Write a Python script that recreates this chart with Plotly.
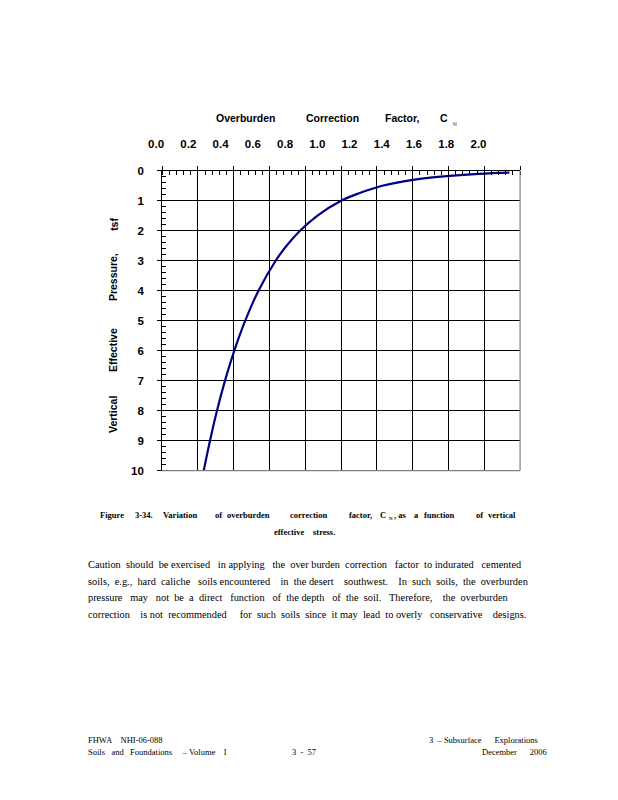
import plotly.graph_objects as go

# ---- data ----
stress_tsf = [0.06, 0.1, 0.2, 0.3, 0.5, 0.75, 1.0, 1.5, 2.0, 2.5, 3.0, 4.0, 5.0, 6.0, 7.0, 8.0, 9.0, 10.0]
cn_values = [1.94, 1.77, 1.54, 1.40, 1.23, 1.10, 1.00, 0.866, 0.77, 0.695, 0.634, 0.538, 0.464, 0.403, 0.351, 0.306, 0.267, 0.232]
x_tick_labels = ["0.0", "0.2", "0.4", "0.6", "0.8", "1.0", "1.2", "1.4", "1.6", "1.8", "2.0"]
x_tick_values = [0.0, 0.2, 0.4, 0.6, 0.8, 1.0, 1.2, 1.4, 1.6, 1.8, 2.0]
y_tick_values = list(range(0, 11))

W, H = 618, 800
def px(x):
    return x / W
def py(y):
    return 1 - y / H

SANS = "Liberation Sans, Arial, sans-serif"
SERIF = "Liberation Serif, Times New Roman, serif"

L, R, T, B = 158.3, 525.7, 167.3, 471.7

fig = go.Figure()
fig.add_trace(go.Scatter(x=cn_values, y=stress_tsf, mode="lines",
                         line=dict(color="#000080", width=2.2, shape="spline"),
                         showlegend=False, hoverinfo="skip"))
# invisible helper trace so the label axis (x2) is drawn
fig.add_trace(go.Scatter(x=x_tick_values, y=[0] * len(x_tick_values), xaxis="x2", yaxis="y2",
                         mode="markers", marker=dict(opacity=0), showlegend=False, hoverinfo="skip"))

fig.update_layout(
    width=W, height=H, margin=dict(l=0, r=0, t=0, b=0),
    paper_bgcolor="white", plot_bgcolor="rgba(0,0,0,0)",
    showlegend=False,
    xaxis=dict(domain=[px(L), px(R)], range=[0, 2.0], side="top",
               tickmode="array", tickvals=x_tick_values, showticklabels=False,
               ticks="outside", ticklen=4, tickcolor="black", tickwidth=1,
               showgrid=True, gridcolor="black", gridwidth=1,
               showline=True, linecolor="black", linewidth=1, mirror=False,
               zeroline=False,
               minor=dict(dtick=0.04, ticks="inside", ticklen=4, tickcolor="black", showgrid=False)),
    xaxis2=dict(domain=[px(152), px(483)], range=[0, 2.0], anchor="free", position=py(T),
                side="top",
                tickmode="array", tickvals=x_tick_values, ticktext=["<b>%s</b>" % t for t in x_tick_labels],
                tickfont=dict(family=SANS, size=11.5, color="black"),
                ticks="", ticklabelstandoff=20, showgrid=False, showline=False, zeroline=False),
    yaxis=dict(domain=[py(B), py(T)], range=[10, 0],
               tickmode="array", tickvals=y_tick_values,
               ticktext=["<b>%d</b>" % v for v in y_tick_values],
               tickfont=dict(family=SANS, size=11.5, color="black"),
               ticks="outside", ticklen=4, tickcolor="black", tickwidth=1,
               ticklabelstandoff=11,
               showgrid=True, gridcolor="black", gridwidth=1,
               showline=True, linecolor="black", linewidth=1, mirror=False,
               zeroline=False,
               minor=dict(dtick=0.2, ticks="inside", ticklen=4, tickcolor="black", showgrid=False)),
    yaxis2=dict(domain=[py(B), py(T)], range=[10, 0], anchor="x2", visible=False,
                showgrid=False, zeroline=False),
)

# gray bottom and right frame lines
fig.add_shape(type="line", xref="paper", yref="paper", x0=px(L), x1=px(R), y0=py(B), y1=py(B),
              line=dict(color="#808080", width=1.2), layer="above")
fig.add_shape(type="line", xref="paper", yref="paper", x0=px(R), x1=px(R), y0=py(B), y1=py(T),
              line=dict(color="#808080", width=1.2), layer="above")

def txt(s, x, y, size, family, xanchor="left", bold=False, angle=0, color="black", yanchor="middle"):
    fig.add_annotation(text=("<b>%s</b>" % s) if bold else s, x=px(x), y=py(y),
                       xref="paper", yref="paper", showarrow=False, align="left",
                       xanchor=xanchor, yanchor=yanchor, textangle=angle, borderpad=0,
                       font=dict(size=size, family=family, color=color))

# axis title (top)
for w, x in [("Overburden", 213), ("Correction", 305), ("Factor,", 386), ("C", 442)]:
    txt(w, x, 114, 10.5, SANS, bold=True)
txt("N", 456, 120, 5.5, SANS, bold=True, color="#b8860b")

# y axis title (rotated words)
for w, y in [("Vertical", 415), ("Effective", 349), ("Pressure,", 275), ("tsf", 222)]:
    txt(w, 108, y, 10.5, SANS, xanchor="center", angle=-90, bold=True)

# caption
cap = [("Figure", 93), ("3-34.", 129), ("Variation", 158), ("of", 211), ("overburden", 224),
       ("correction", 288), ("factor,", 349), ("C", 381), (", as", 395), ("a", 416),
       ("function", 426), ("of", 479), ("vertical", 492)]
for w, x in cap:
    txt(w, x, 517, 8.5, SERIF, bold=True)
txt("N", 390, 520, 5, SERIF, bold=True)
txt("effective", 272, 534, 8.5, SERIF, bold=True)
txt("stress.", 312, 534, 8.5, SERIF, bold=True)

# paragraph
para = [
    "Caution  should  be exercised   in applying   the  over burden  correction   factor  to indurated   cemented",
    "soils,  e.g.,  hard  caliche   soils encountered    in  the desert    southwest.    In  such  soils,  the  overburden",
    "pressure   may   not  be  a  direct   function   of  the depth   of  the  soil.   Therefore,    the  overburden",
    "correction    is not  recommended     for  such  soils  since  it may  lead  to overly   conservative    designs.",
]
for i, line in enumerate(para):
    txt(line.replace(" ", "&nbsp;"), 81, 567.5 + i * 16.7, 10.35, SERIF)

# footer
txt("FHWA&nbsp;&nbsp;&nbsp;&nbsp;NHI-06-088", 81, 745, 8.5, SERIF)
txt("Soils&nbsp;&nbsp;&nbsp;and&nbsp;&nbsp;&nbsp;Foundations&nbsp;&nbsp;&nbsp;&nbsp;&nbsp;&#8211;&nbsp;Volume&nbsp;&nbsp;&nbsp;&nbsp;I", 81, 757, 8.5, SERIF)
txt("3&nbsp;&nbsp;-&nbsp;&nbsp;57", 291, 757, 8.5, SERIF)
txt("3&nbsp;&nbsp;&#8211;&nbsp;Subsurface&nbsp;&nbsp;&nbsp;&nbsp;&nbsp;&nbsp;Explorations", 545, 745, 8.5, SERIF, xanchor="right")
txt("December&nbsp;&nbsp;&nbsp;&nbsp;&nbsp;&nbsp;2006", 554, 757, 8.5, SERIF, xanchor="right")

fig.write_html("out.html", config={"displayModeBar": False},
               post_script="document.body.style.margin='0px';document.body.style.padding='0px';document.body.style.overflow='hidden';")
